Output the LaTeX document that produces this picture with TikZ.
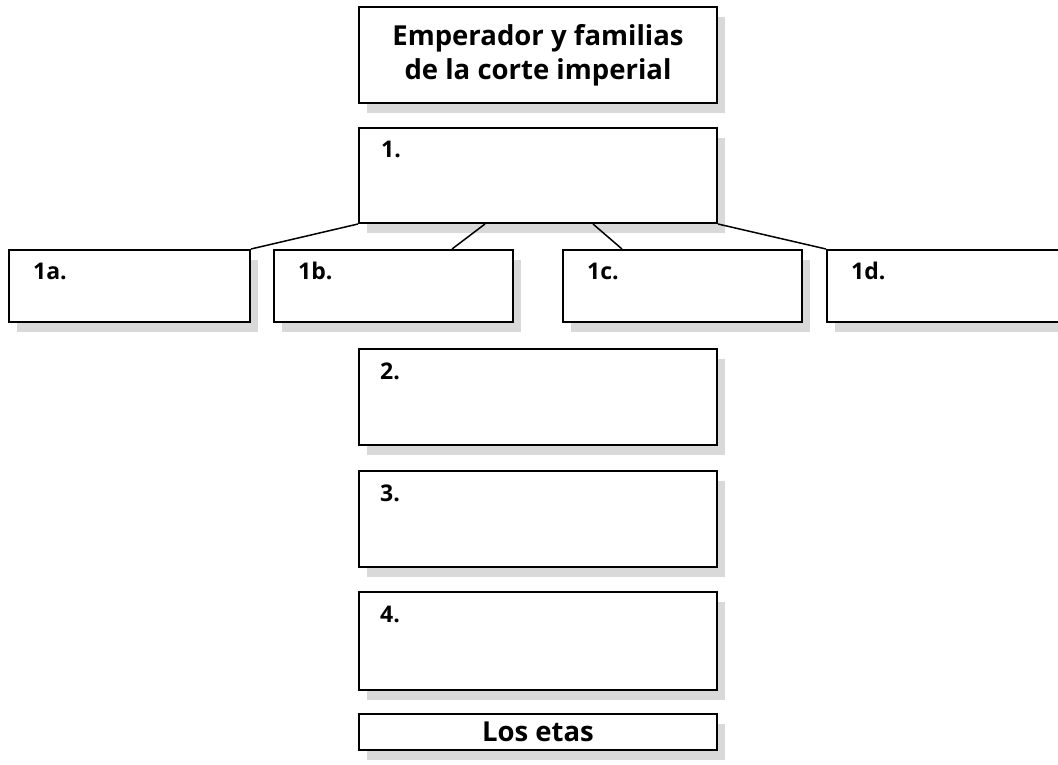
\documentclass[tikz,border=0pt]{standalone}
\usepackage{fontspec}
\setmainfont{Open Sans}
\usetikzlibrary{shadows, positioning}

\begin{document}
\begin{tikzpicture}[x=1pt, y=-1pt,
  caja/.style={draw, line width=2pt, fill=white, anchor=north west, inner sep=0pt,
    drop shadow={shadow xshift=8pt, shadow yshift=-10pt, fill=black!15, opacity=1}},
  num/.style={anchor=base west, inner sep=0pt, font=\fontsize{23}{23}\selectfont\bfseries},
  titulo/.style={align=center, font=\fontsize{27.5}{34}\selectfont\bfseries},
  enlace/.style={line width=1.5pt}]
  \useasboundingbox (0,0) rectangle (1058,764);
  % Corte imperial
  \node[caja, titulo, minimum width=358, minimum height=96] (emperador) at (358,6)
    {Emperador y familias\\de la corte imperial};
  % Nivel 1
  \node[caja, minimum width=358, minimum height=95] (uno) at (358,127) {};
  \node[num] (tuno) at ([xshift=23pt, yshift=-30pt]uno.north west) {1.};
  % Subniveles
  \node[caja, minimum width=241, minimum height=72] (unoa) at (8,249) {};
  \node[caja, minimum width=239, minimum height=72] (unob) at (273,249) {};
  \node[caja, minimum width=239, minimum height=72] (unoc) at (562,249) {};
  \node[caja, minimum width=240, minimum height=72] (unod) at (826,249) {};
  \node[num] (tunoa) at ([xshift=25pt, yshift=-30pt]unoa.north west) {1a.};
  \node[num] (tunob) at ([xshift=25pt, yshift=-30pt]unob.north west) {1b.};
  \node[num] (tunoc) at ([xshift=25pt, yshift=-30pt]unoc.north west) {1c.};
  \node[num] (tunod) at ([xshift=25pt, yshift=-30pt]unod.north west) {1d.};
  \draw[enlace] (uno.south west) -- (unoa.north east);
  \draw[enlace] ([xshift=127pt]uno.south west) -- ([xshift=179pt]unob.north west);
  \draw[enlace] ([xshift=235pt]uno.south west) -- ([xshift=60pt]unoc.north west);
  \draw[enlace] (uno.south east) -- (unod.north west);
  % Niveles 2 a 4
  \node[caja, minimum width=358, minimum height=96] (dos) at (358,348) {};
  \node[caja, minimum width=358, minimum height=96] (tres) at (358,470) {};
  \node[caja, minimum width=358, minimum height=98] (cuatro) at (358,591) {};
  \node[num] (tdos) at ([xshift=22pt, yshift=-31pt]dos.north west) {2.};
  \node[num] (ttres) at ([xshift=22pt, yshift=-31pt]tres.north west) {3.};
  \node[num] (tcuatro) at ([xshift=22pt, yshift=-31pt]cuatro.north west) {4.};
  % Los etas
  \node[caja, titulo, minimum width=358, minimum height=36] (etas) at (358,713) {Los etas};
\end{tikzpicture}
\end{document}
